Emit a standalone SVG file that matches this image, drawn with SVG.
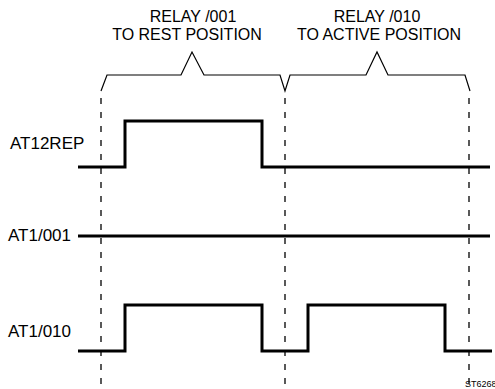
<svg xmlns="http://www.w3.org/2000/svg" width="495" height="389" viewBox="0 0 495 389">
<style>
text{font-family:"Liberation Sans",Arial,sans-serif;fill:#000}
.t{font-size:16px}
.lbl{font-size:17px}
.sig{fill:none;stroke:#000;stroke-width:3;stroke-linejoin:miter}
.dash{fill:none;stroke:#000;stroke-width:1.3;stroke-dasharray:6 8}
.brace{fill:none;stroke:#000;stroke-width:1.2}
</style>
<rect width="495" height="389" fill="#fff"/>
<g id="title1">
<text class="t" x="193" y="22" text-anchor="middle">RELAY /001</text>
<text class="t" x="187" y="40" text-anchor="middle">TO REST POSITION</text>
</g>
<g id="title2">
<text class="t" x="377" y="22" text-anchor="middle">RELAY /010</text>
<text class="t" x="379" y="40" text-anchor="middle">TO ACTIVE POSITION</text>
</g>
<g id="braces">
<path class="brace" d="M101,91 L107,75 L181,75 L192,52 L204,75 L280,75 L285,91 L290,75 L366,75 L377,52 L388,75 L465,75 L470,91"/>
</g>
<g id="connectors">
<line class="dash" x1="101" y1="98" x2="101" y2="386"/>
<line class="dash" x1="285" y1="98" x2="285" y2="386"/>
<line class="dash" x1="469" y1="98" x2="469" y2="386"/>
</g>
<g id="AT12REP">
<text class="lbl" x="10" y="149">AT12REP</text>
<path class="sig" d="M78,167 L125,167 L125,121 L262,121 L262,167 L490,167"/>
</g>
<g id="AT1-001">
<text class="lbl" x="8" y="241">AT1/001</text>
<path class="sig" d="M78,236 L490,236"/>
</g>
<g id="AT1-010">
<text class="lbl" x="8" y="337">AT1/010</text>
<path class="sig" d="M78,351 L125,351 L125,305 L262,305 L262,351 L308,351 L308,305 L445,305 L445,351 L492,351"/>
</g>
<g id="code">
<text x="465" y="387" font-size="9">ST6268</text>
</g>
</svg>
